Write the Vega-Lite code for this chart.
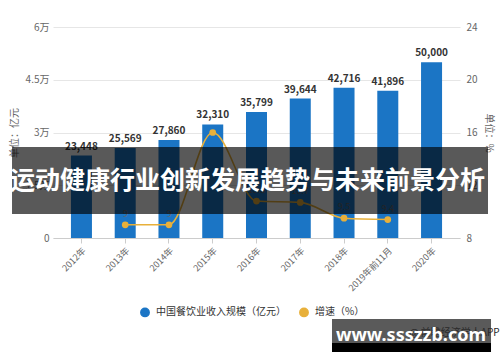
{
  "$schema": "https://vega.github.io/schema/vega-lite/v6.json",
  "width": 407,
  "height": 211,
  "autosize": {"type": "none"},
  "padding": {"left": 53, "top": 27, "right": 40, "bottom": 124},
  "background": "white",
  "config": {
    "font": "Noto Sans CJK SC",
    "view": {"stroke": null},
    "axis": {"labelFont": "Noto Sans CJK SC", "titleFont": "Noto Sans CJK SC", "labelColor": "#666", "titleColor": "#666", "titleFontWeight": "normal"},
    "legend": {"labelFont": "Noto Sans CJK SC", "labelFontSize": 10, "labelColor": "#333", "symbolType": "circle", "symbolSize": 70, "orient": "none", "legendX": 87, "legendY": 280, "direction": "horizontal", "columnPadding": 10, "labelOffset": 6, "title": null}
  },
  "layer": [
    {
      "data": {"values": [
        {"year": "2012年", "value": 23448, "growth": null},
        {"year": "2013年", "value": 25569, "growth": 9},
        {"year": "2014年", "value": 27860, "growth": 9},
        {"year": "2015年", "value": 32310, "growth": 16},
        {"year": "2016年", "value": 35799, "growth": 10.8},
        {"year": "2017年", "value": 39644, "growth": 10.7},
        {"year": "2018年", "value": 42716, "growth": 9.5},
        {"year": "2019年前11月", "value": 41896, "growth": 9.4},
        {"year": "2020年", "value": 50000, "growth": null}
      ]},
      "encoding": {
        "x": {"field": "year", "type": "nominal", "sort": null,
          "scale": {"paddingInner": 0.52, "paddingOuter": 0.41},
          "axis": {"title": null, "labelAngle": -45, "labelFontSize": 9, "domainColor": "#cccccc", "tickColor": "#cccccc", "tickSize": 5, "labelPadding": 3, "grid": false}}
      },
      "layer": [
        {
          "layer": [
            {
              "mark": {"type": "bar", "color": "#1b75c5"},
              "encoding": {
                "y": {"field": "value", "type": "quantitative",
                  "scale": {"domain": [0, 60000], "nice": false},
                  "axis": {"values": [0, 15000, 30000, 45000, 60000], "labelExpr": "datum.value == 0 ? '0' : (datum.value / 10000) + '万'", "title": "单位：亿元", "titleFontSize": 10, "titlePadding": 6, "labelFontSize": 10, "labelPadding": 4, "domain": false, "ticks": false, "gridColor": "#e6e6e6"}},
                "color": {"datum": "中国餐饮业收入规模（亿元）", "type": "nominal",
                  "scale": {"domain": ["中国餐饮业收入规模（亿元）", "增速（%）"], "range": ["#1b75c5", "#e8b03a"]}}
              }
            },
            {
              "mark": {"type": "text", "baseline": "bottom", "dy": -4, "fontSize": 10, "fontWeight": "bold", "color": "#333"},
              "encoding": {
                "y": {"field": "value", "type": "quantitative"},
                "text": {"field": "value", "type": "quantitative", "format": ",d"}
              }
            }
          ]
        },
        {
          "transform": [{"filter": "isValid(datum.growth)"}],
          "layer": [
            {
              "mark": {"type": "line", "interpolate": "monotone", "strokeWidth": 1.6},
              "encoding": {
                "y": {"field": "growth", "type": "quantitative",
                  "scale": {"domain": [8, 24], "nice": false, "zero": false},
                  "axis": {"orient": "right", "values": [8, 12, 16, 20, 24], "title": "单位：%", "titleFontSize": 10, "titlePadding": 6, "labelFontSize": 10, "labelPadding": 6, "domain": false, "ticks": false, "grid": false}},
                "color": {"datum": "增速（%）", "type": "nominal"}
              }
            },
            {
              "mark": {"type": "point", "filled": true, "size": 45, "opacity": 1},
              "encoding": {
                "y": {"field": "growth", "type": "quantitative"},
                "color": {"datum": "增速（%）", "type": "nominal"}
              }
            },
            {
              "transform": [{"filter": "datum.year != '2015年'"}],
              "mark": {"type": "text", "baseline": "bottom", "dy": -6, "fontSize": 9, "color": "#666"},
              "encoding": {
                "y": {"field": "growth", "type": "quantitative"},
                "text": {"field": "growth", "type": "quantitative"}
              }
            }
          ]
        }
      ],
      "resolve": {"scale": {"y": "independent"}}
    },
    {
      "data": {"values": [{}]},
      "layer": [
        {
          "mark": {"type": "rect", "color": "black", "opacity": 0.65},
          "encoding": {
            "x": {"datum": -0.1007, "type": "quantitative", "scale": {"domain": [0, 1], "nice": false, "zero": false}, "axis": null},
            "x2": {"datum": 1.0688},
            "y": {"datum": 0.1137, "type": "quantitative", "scale": {"domain": [0, 1], "nice": false, "zero": false}, "axis": null},
            "y2": {"datum": 0.431}
          }
        },
        {
          "mark": {"type": "text", "color": "white", "fontSize": 25, "fontWeight": "bold", "align": "center", "baseline": "middle"},
          "encoding": {
            "x": {"datum": 0.478, "type": "quantitative"},
            "y": {"datum": 0.27, "type": "quantitative"},
            "text": {"value": "运动健康行业创新发展趋势与未来前景分析"}
          }
        },
        {
          "mark": {"type": "rect", "color": "#5a5a5a"},
          "encoding": {
            "x": {"datum": 0.6855, "type": "quantitative"},
            "x2": {"datum": 1.0762},
            "y": {"datum": -0.384, "type": "quantitative"},
            "y2": {"datum": -0.498}
          }
        },
        {
          "mark": {"type": "rect", "color": "black"},
          "encoding": {
            "x": {"datum": 0.6855, "type": "quantitative"},
            "x2": {"datum": 1.0762},
            "y": {"datum": -0.498, "type": "quantitative"},
            "y2": {"datum": -0.54}
          }
        },
        {
          "mark": {"type": "text", "color": "#2a2a2a", "fontSize": 10, "align": "left", "baseline": "middle"},
          "encoding": {
            "x": {"datum": 0.875, "type": "quantitative"},
            "y": {"datum": -0.45, "type": "quantitative"},
            "text": {"value": "@ 前瞻经济学人APP"}
          }
        },
        {
          "mark": {"type": "text", "color": "white", "fontSize": 18, "fontWeight": "bold", "align": "center", "baseline": "middle", "font": "Noto Sans"},
          "encoding": {
            "x": {"datum": 0.8796, "type": "quantitative"},
            "y": {"datum": -0.466, "type": "quantitative"},
            "text": {"value": "www.ssszzb.com"}
          }
        }
      ]
    }
  ],
  "resolve": {"scale": {"x": "independent", "y": "independent"}}
}
